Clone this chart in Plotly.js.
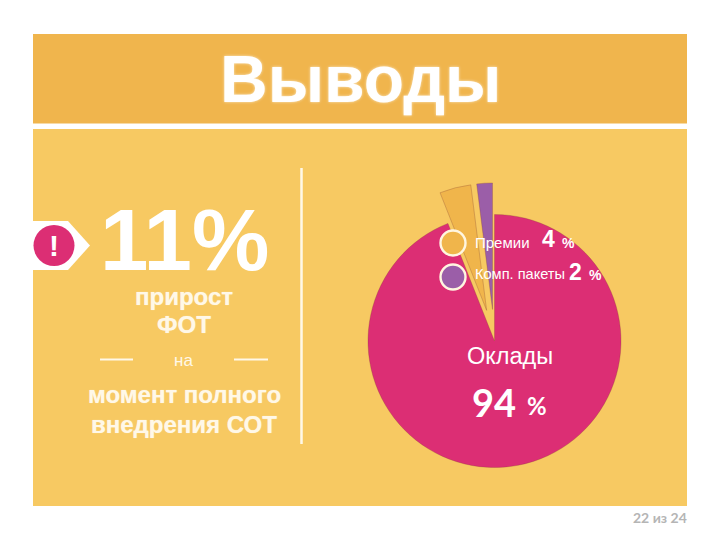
<!DOCTYPE html>
<html><head><meta charset="utf-8">
<script src="https://cdn.plot.ly/plotly-3.0.1.min.js"></script>
<style>html,body{margin:0;padding:0;background:#fff}#c{width:720px;height:540px}</style>
</head><body><div id="c"></div>
<script>
const categories = ['Оклады', 'Премии', 'Комп. пакеты'];
const shares = [94, 4, 2];
const pulls = [0, 0.25, 0.25];
const sliceColors = ['#DC2E74', '#F0B54B', '#9B5EA8'];
const titleText = 'Выводы';
const headline = '11%';
const leftLines = ['прирост', 'ФОТ', 'на', 'момент полного', 'внедрения СОТ'];
const pageText = '22 из 24';

const W = 720, H = 540;
const px = x => x / W, py = y => 1 - y / H;
const cx = 494.5, cy = 341, R = 126.5 * 1.25;
const sans = 'Liberation Sans, Arial, sans-serif';
const W1 = '#FFFFFF';
const CREAM = '#FFF8E8';

function txt(x, y, text, size, opts) {
  return Object.assign({
    xref: 'paper', yref: 'paper', x: px(x), y: py(y), text: text, showarrow: false,
    xanchor: 'center', yanchor: 'middle', font: {family: sans, size: size, color: W1}
  }, opts || {});
}
function rect(x0, y0, x1, y1, fill, layer) {
  return {type: 'rect', xref: 'paper', yref: 'paper', x0: px(x0), x1: px(x1), y0: py(y0), y1: py(y1),
    fillcolor: fill, line: {width: 0}, layer: layer || 'below'};
}
function circle(x, y, r, fill, lineColor, lw) {
  return {type: 'circle', xref: 'paper', yref: 'paper', x0: px(x - r), x1: px(x + r), y0: py(y - r), y1: py(y + r),
    fillcolor: fill, line: {color: lineColor, width: lw}, layer: 'above'};
}
function line(x0, y0, x1, y1, width) {
  return {type: 'line', xref: 'paper', yref: 'paper', x0: px(x0), x1: px(x1), y0: py(y0), y1: py(y1),
    line: {color: CREAM, width: width}, layer: 'above'};
}
const badge = 'M ' + px(33) + ' ' + py(221) + ' L ' + px(68) + ' ' + py(221) + ' L ' + px(90) + ' ' + py(245.5) +
  ' L ' + px(68) + ' ' + py(270) + ' L ' + px(33) + ' ' + py(270) + ' Z';

const data = [{
  type: 'pie', labels: categories, values: shares, pull: pulls, sort: false, direction: 'clockwise', rotation: 0,
  textinfo: 'none', hoverinfo: 'label+percent', showlegend: false,
  marker: {colors: sliceColors, line: {color: 'rgba(130,60,50,0.4)', width: 0.7}},
  domain: {x: [px(cx - R), px(cx + R)], y: [py(cy + R), py(cy - R)]}
}];

const soft = {family: sans, size: 24, color: CREAM, shadow: '0 0 1px rgba(255,255,255,0.6)'};
const layout = {
  width: W, height: H, margin: {l: 0, r: 0, t: 0, b: 0, pad: 0},
  paper_bgcolor: '#FFFFFF', plot_bgcolor: '#FFFFFF', showlegend: false,
  shapes: [
    rect(33, 34, 687, 123.5, '#F0B54D'),
    rect(33, 129, 687, 506, '#F7C962'),
    {type: 'path', path: badge, xref: 'paper', yref: 'paper', fillcolor: W1, line: {width: 0}, layer: 'below'},
    circle(54, 245.5, 20.5, '#DC2E74', '#DC2E74', 0),
    line(301.5, 168, 301.5, 444, 2.5),
    line(100, 359.5, 133, 359.5, 2),
    line(234, 359.5, 268, 359.5, 2),
    circle(453, 243, 12.5, sliceColors[1], '#FFF6E0', 2.4),
    circle(453, 277, 12.5, sliceColors[2], '#FFF6E0', 2.4)
  ],
  annotations: [
    txt(360, 79, '<b>' + titleText + '</b>', 66, {font: {family: sans, size: 66, color: W1, shadow: '0 0 3px rgba(255,255,255,0.7)'}}),
    txt(54, 245, '<b>!</b>', 30),
    txt(185, 239, '<b>' + headline + '</b>', 87),
    txt(184, 296, '<b>' + leftLines[0] + '</b>', 24, {font: soft}),
    txt(184, 324, '<b>' + leftLines[1] + '</b>', 24, {font: soft}),
    txt(183, 360, leftLines[2], 17, {font: {family: sans, size: 17, color: CREAM}}),
    txt(184.5, 394, '<b>' + leftLines[3] + '</b>', 24, {font: soft}),
    txt(184.5, 424, '<b>' + leftLines[4] + '</b>', 24, {font: soft}),
    txt(473, 242, categories[1], 15, {xanchor: 'left'}),
    txt(540, 239, '<b>' + shares[1] + '</b>', 23, {xanchor: 'left'}),
    txt(560, 243, '<b>%</b>', 14, {xanchor: 'left'}),
    txt(473, 274, categories[2], 14.6, {xanchor: 'left'}),
    txt(567, 272, '<b>' + shares[2] + '</b>', 23, {xanchor: 'left'}),
    txt(587, 275, '<b>%</b>', 14, {xanchor: 'left'}),
    txt(510, 356, categories[0], 23.5),
    txt(494, 402, '<b>' + shares[0] + '</b>', 38, {font: {family: 'Lato, sans-serif', size: 38, color: W1}}),
    txt(537, 405, '<b>%</b>', 24, {font: {family: 'Lato, sans-serif', size: 24, color: W1}}),
    txt(660, 517, '<b>' + pageText + '</b>', 14, {font: {family: 'Lato, sans-serif', size: 14, color: '#B5B5B5'}})
  ]
};
Plotly.newPlot('c', data, layout, {displayModeBar: false, staticPlot: true});
</script></body></html>
